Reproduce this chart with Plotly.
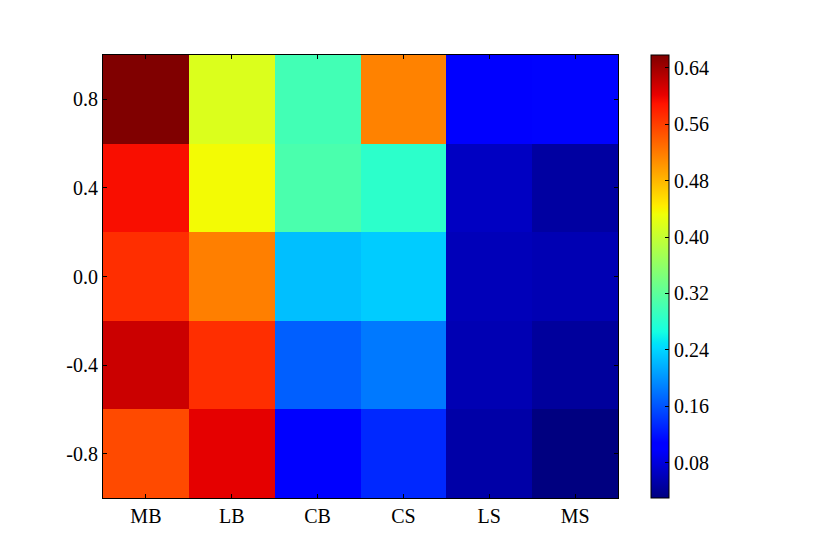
import plotly.graph_objects as go

# data
columns = ["MB", "LB", "CB", "CS", "LS", "MS"]
rows = [-0.8, -0.4, 0.0, 0.4, 0.8]
row_labels = ["-0.8", "-0.4", "0.0", "0.4", "0.8"]

vals_m08 = [0.552, 0.603, 0.104, 0.133, 0.051, 0.030]
vals_m04 = [0.617, 0.571, 0.167, 0.183, 0.058, 0.045]
vals_00 = [0.571, 0.517, 0.226, 0.234, 0.061, 0.058]
vals_04 = [0.592, 0.435, 0.306, 0.283, 0.066, 0.048]
vals_08 = [0.658, 0.417, 0.300, 0.515, 0.104, 0.110]

cbar_ticks = [0.08, 0.16, 0.24, 0.32, 0.40, 0.48, 0.56, 0.64]
zmin, zmax = 0.030, 0.658


# matplotlib 'jet' segment data
_jet = {
    "r": [(0, 0), (0.35, 0), (0.66, 1), (0.89, 1), (1, 0.5)],
    "g": [(0, 0), (0.125, 0), (0.375, 1), (0.64, 1), (0.91, 0), (1, 0)],
    "b": [(0, 0.5), (0.11, 1), (0.34, 1), (0.65, 0), (1, 0)],
}


def _interp(pts, t):
    for (x0, y0), (x1, y1) in zip(pts[:-1], pts[1:]):
        if x0 <= t <= x1:
            return y0 + (y1 - y0) * (t - x0) / (x1 - x0)
    return pts[-1][1]


stops = sorted({p[0] for seg in _jet.values() for p in seg})
jet = [[t, "rgb(%d,%d,%d)" % tuple(round(255 * _interp(_jet[c], t)) for c in "rgb")]
       for t in stops]

font = dict(family="Liberation Serif, DejaVu Serif, serif", size=20, color="black")

fig = go.Figure(go.Heatmap(
    z=[vals_m08, vals_m04, vals_00, vals_04, vals_08],
    x=columns,
    y=rows,
    colorscale=jet,
    zmin=zmin,
    zmax=zmax,
    xgap=0, ygap=0,
    colorbar=dict(
        x=1.064, xanchor="left", xref="paper", xpad=0,
        y=0.5, yanchor="middle", len=1, lenmode="fraction", ypad=0,
        thickness=18,
        outlinecolor="black", outlinewidth=1,
        tickvals=cbar_ticks,
        ticktext=["%.2f" % v for v in cbar_ticks],
        ticks="inside", ticklen=4, tickcolor="black",
        tickfont=font,
    ),
))

fig.update_xaxes(
    range=[-0.5, 5.5], showline=True, linecolor="black", linewidth=1, mirror="ticks",
    ticks="inside", ticklen=4, tickcolor="black", tickfont=font, showgrid=False,
    zeroline=False,
)
fig.update_yaxes(
    range=[-1, 1], tickvals=rows, ticktext=row_labels,
    showline=True, linecolor="black", linewidth=1, mirror="ticks",
    ticks="inside", ticklen=4, tickcolor="black", tickfont=font, showgrid=False,
    zeroline=False,
)

# page body adds an 8px offset, so shift margins to land the axes where the reference has them
fig.update_layout(
    width=830, height=554,
    margin=dict(l=95, r=220, t=47, b=64),
    paper_bgcolor="white", plot_bgcolor="white",
    font=font,
)

fig.write_html("out.html")
